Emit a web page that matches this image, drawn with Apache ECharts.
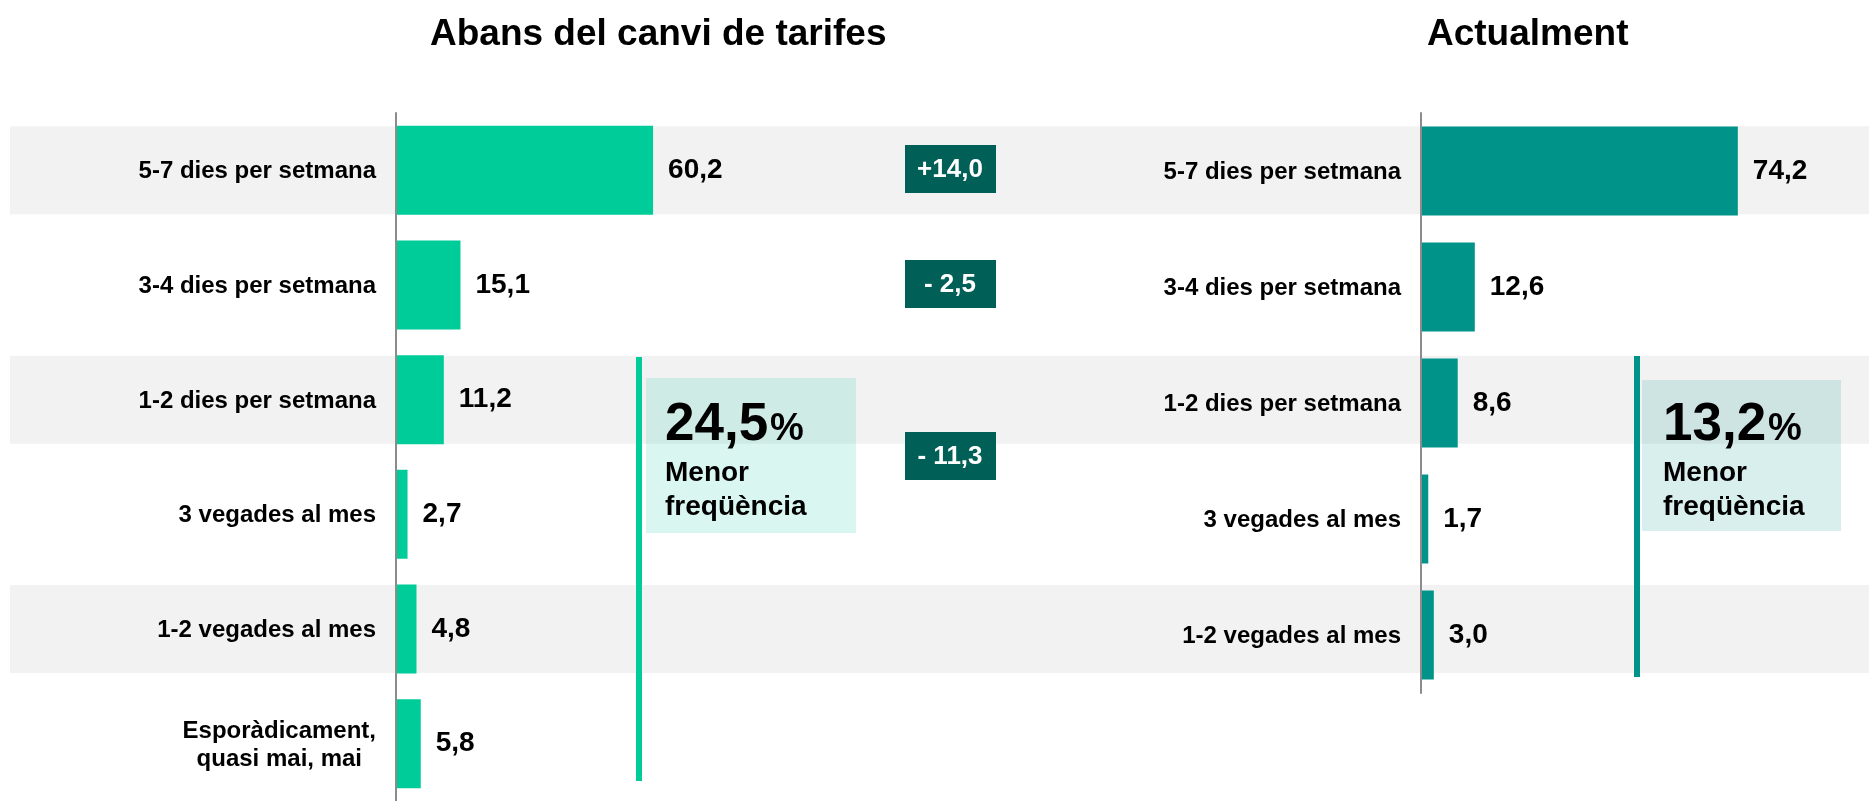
<!DOCTYPE html>
<html lang="ca">
<head>
    <meta charset="UTF-8">
    <title>Freqüència</title>
    <style>
        body{
            margin: 0;
            background: #fff;
        }
        #main{
            width: 1869px;
            height: 801px;
        }
    </style>
    <script src="https://cdn.jsdelivr.net/npm/echarts@6/dist/echarts.min.js"></script>
</head>
<body>
    <div id="main"></div>
</body>
<script>
    // categories (the last one only exists in the "before" panel)
    var categories = ['5-7 dies per setmana', '3-4 dies per setmana', '1-2 dies per setmana',
        '3 vegades al mes', '1-2 vegades al mes', 'Esporàdicament,\nquasi mai, mai'];
    // percentages before the fare change
    var beforeValues = [60.2, 15.1, 11.2, 2.7, 4.8, 5.8];
    // percentages now
    var currentValues = [74.2, 12.6, 8.6, 1.7, 3.0];
    // differences shown in the middle boxes
    var deltas = [14.0, -2.5, -11.3];
    // "Menor freqüència" totals: before, now
    var lowerFreq = [24.5, 13.2];

    var FONT = '"Liberation Sans", Arial, sans-serif';
    var green = '#00CC99';
    var teal = '#00938A';
    var dark = '#005F57';

    function fmt(v){
        return v.toFixed(1).replace('.', ',');
    }
    function fmtDelta(v){
        return v > 0 ? '+' + fmt(v) : '- ' + fmt(-v);
    }

    var catLabel = {
        fontFamily: FONT,
        fontSize: 24,
        fontWeight: 'bold',
        color: '#000',
        margin: 20,
        lineHeight: 28,
        formatter: function(v){
            return v.split('\n').map(function(s){ return '{c|' + s + '}'; }).join('\n');
        },
        rich: {
            c: {align: 'center', fontFamily: FONT, fontSize: 24, fontWeight: 'bold', color: '#000', lineHeight: 28, padding: [3, 0, 0, 0]}
        }
    };
    var valLabel = {
        show: true,
        position: 'right',
        distance: 15,
        fontFamily: FONT,
        fontSize: 28,
        fontWeight: 'bold',
        color: '#000',
        padding: [5, 0, 0, 0],
        formatter: function(p){ return fmt(p.value); }
    };

    var mCharts = echarts.init(document.getElementById('main'));

    // middle delta boxes: rows 0, 1 and between 2 and 3
    var deltaY = [169, 284, 456];
    var graphics = [];
    deltas.forEach(function(d, i){
        graphics.push({
            type: 'rect', z: 10,
            shape: {x: 905, y: deltaY[i] - 24, width: 91, height: 48},
            style: {fill: dark}
        });
        graphics.push({
            type: 'text', z: 11, x: 950, y: deltaY[i] + 1,
            style: {text: fmtDelta(d), fill: '#fff', font: 'bold 26px ' + FONT, align: 'center', verticalAlign: 'middle'}
        });
    });

    // "Menor freqüència" brackets
    var boxes = [
        {lineX: 636, lineTop: 357, lineBottom: 781, boxX: 646, boxW: 210, boxTop: 378, boxH: 155, textX: 665,
            color: green, fill: 'rgba(0,204,153,0.15)', value: lowerFreq[0]},
        {lineX: 1634, lineTop: 356, lineBottom: 677, boxX: 1642, boxW: 199, boxTop: 380, boxH: 151, textX: 1663,
            color: teal, fill: 'rgba(0,148,136,0.15)', value: lowerFreq[1]}
    ];
    boxes.forEach(function(b){
        graphics.push({
            type: 'rect', z: 10,
            shape: {x: b.lineX, y: b.lineTop, width: 6, height: b.lineBottom - b.lineTop},
            style: {fill: b.color}
        });
        graphics.push({
            type: 'rect', z: 10,
            shape: {x: b.boxX, y: b.boxTop, width: b.boxW, height: b.boxH},
            style: {fill: b.fill}
        });
        graphics.push({
            type: 'text', z: 11, x: b.textX, y: 425,
            style: {text: fmt(b.value), fill: '#000', font: 'bold 53px ' + FONT, verticalAlign: 'middle'}
        });
        graphics.push({
            type: 'text', z: 11, x: b.textX + 105, y: 430,
            style: {text: '%', fill: '#000', font: 'bold 38px ' + FONT, verticalAlign: 'middle'}
        });
        graphics.push({
            type: 'text', z: 11, x: b.textX, y: 490,
            style: {text: 'Menor\nfreqüència', fill: '#000', font: 'bold 28px ' + FONT, lineHeight: 34, verticalAlign: 'middle'}
        });
    });

    var option = {
        backgroundColor: '#fff',
        animation: false,
        title: [
            {text: 'Abans del canvi de tarifes', left: 430, top: 16, padding: 0,
                textStyle: {fontFamily: FONT, fontSize: 37, fontWeight: 'bold', color: '#000'}},
            {text: 'Actualment', left: 1427, top: 16, padding: 0,
                textStyle: {fontFamily: FONT, fontSize: 37, fontWeight: 'bold', color: '#000'}}
        ],
        grid: [
            {left: 396, top: 113, width: 427, height: 690},
            {left: 1421, top: 113, width: 427, height: 580},
            // full-width grid for the grey stripes
            {left: 10, right: 0, top: 113, height: 690}
        ],
        xAxis: [
            {gridIndex: 0, type: 'value', min: 0, max: 100, show: false},
            {gridIndex: 1, type: 'value', min: 0, max: 100, show: false},
            {gridIndex: 2, type: 'value', min: 0, max: 1, show: false}
        ],
        yAxis: [
            {gridIndex: 0, type: 'category', inverse: true, data: categories, z: 5,
                axisLine: {lineStyle: {color: '#8c8c8c', width: 2}}, axisTick: {show: false},
                axisLabel: catLabel},
            {gridIndex: 1, type: 'category', inverse: true, data: categories.slice(0, currentValues.length), z: 5,
                axisLine: {lineStyle: {color: '#8c8c8c', width: 2}}, axisTick: {show: false},
                axisLabel: catLabel},
            {gridIndex: 2, type: 'category', inverse: true, data: categories, show: false}
        ],
        series: [
            {
                type: 'bar', xAxisIndex: 2, yAxisIndex: 2, silent: true, z: 0,
                data: categories.map(function(c, i){ return i % 2 === 0 ? 1 : 0; }),
                barWidth: 88,
                itemStyle: {color: '#F2F2F2'}
            },
            {
                name: 'Abans', type: 'bar', xAxisIndex: 0, yAxisIndex: 0,
                data: beforeValues, barWidth: 89,
                itemStyle: {color: green},
                label: valLabel
            },
            {
                name: 'Actualment', type: 'bar', xAxisIndex: 1, yAxisIndex: 1,
                data: currentValues, barWidth: 89,
                itemStyle: {color: teal},
                label: valLabel
            }
        ],
        graphic: graphics
    };
    mCharts.setOption(option);
</script>
</html>
